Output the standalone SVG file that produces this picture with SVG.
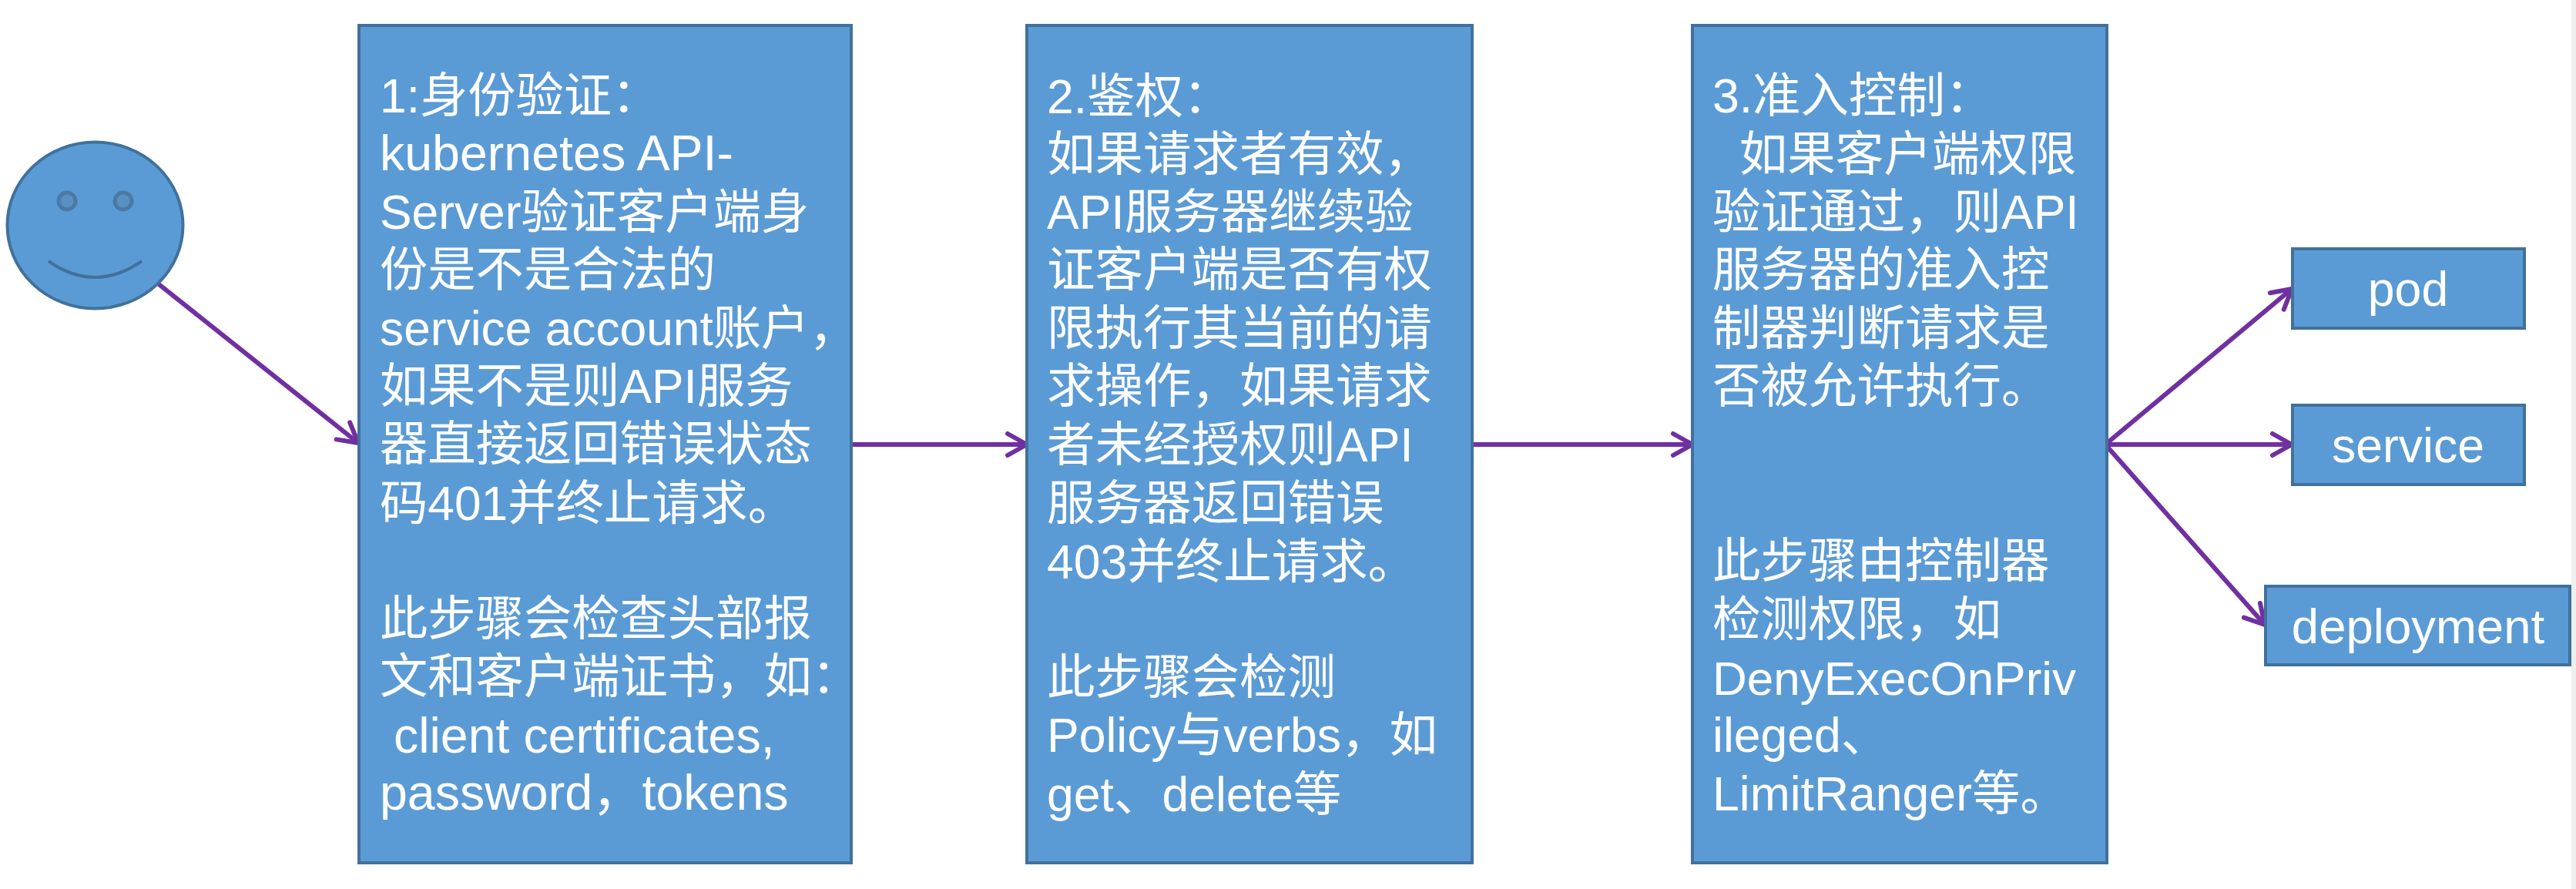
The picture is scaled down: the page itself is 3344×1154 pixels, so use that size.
<svg xmlns="http://www.w3.org/2000/svg" width="3344" height="1154" viewBox="0 0 3344 1154">
<defs>
<marker id="open" markerUnits="userSpaceOnUse" markerWidth="44" markerHeight="44" refX="29" refY="20" orient="auto" overflow="visible"><path d="M4 6 L29 20 L4 34" fill="none" stroke="#7030a0" stroke-width="6" stroke-linecap="round" stroke-linejoin="round"/></marker>
</defs>
<style>
.n{fill:#5b9bd5;stroke:#41719c;stroke-width:4}
.e{fill:#5b8fc2;stroke:#4a79a5;stroke-width:5}
.t{fill:#fff;font-family:"Liberation Sans","Noto Sans CJK SC",sans-serif;font-size:62.5px;white-space:pre}
#step1 .t{font-size:62.3px}
#step1 .l{font-size:64.5px}
.c{text-anchor:middle}
.a{fill:none;stroke:#7030a0;stroke-width:6;marker-end:url(#open)}
</style>
<rect width="3344" height="1154" fill="#fff"/>
<rect x="3338" width="6" height="1154" fill="#efefef"/>
<g id="connectors">
<path class="a" d="M205 368L465 575"/>
<path class="a" d="M1105 577H1333"/>
<path class="a" d="M1911 577H2197"/>
<path class="a" d="M2733 577L2975 375"/>
<path class="a" d="M2733 577H2975"/>
<path class="a" d="M2733 577L2940 811"/>
</g>
<g id="user">
<ellipse class="n" cx="123.5" cy="292.5" rx="114" ry="108"/>
<ellipse class="e" cx="87" cy="261" rx="11" ry="11"/>
<ellipse class="e" cx="160" cy="261" rx="11" ry="11"/>
<path d="M63 339Q123 381 184 339" fill="none" stroke="#41719c" stroke-width="4"/>
</g>
<g id="step1">
<rect class="n" x="466" y="33" width="639" height="1087"/>
<text class="t" x="493" y="146">1:身份验证&#xFF1A;</text>
<text class="t l" x="493" y="221">kubernetes API-</text>
<text class="t" x="493" y="297">Server验证客户端身</text>
<text class="t" x="493" y="372">份是不是合法的</text>
<text class="t" x="493" y="448">service account账户&#xFF0C;</text>
<text class="t" x="493" y="523">如果不是则API服务</text>
<text class="t" x="493" y="598">器直接返回错误状态</text>
<text class="t" x="493" y="675">码401并终止请求。</text>
<text class="t" x="493" y="825">此步骤会检查头部报</text>
<text class="t" x="493" y="900">文和客户端证书&#xFF0C;如&#xFF1A;</text>
<text class="t l" x="493" y="977"> client certificates,</text>
<text class="t l" x="493" y="1051">password&#xFF0C;tokens</text>
</g>
<g id="step2">
<rect class="n" x="1333" y="33" width="578" height="1087"/>
<text class="t" x="1359" y="147">2.鉴权&#xFF1A;</text>
<text class="t" x="1359" y="222">如果请求者有效&#xFF0C;</text>
<text class="t" x="1359" y="297">API服务器继续验</text>
<text class="t" x="1359" y="372">证客户端是否有权</text>
<text class="t" x="1359" y="448">限执行其当前的请</text>
<text class="t" x="1359" y="523">求操作&#xFF0C;如果请求</text>
<text class="t" x="1359" y="599">者未经授权则API</text>
<text class="t" x="1359" y="675">服务器返回错误</text>
<text class="t" x="1359" y="751">403并终止请求。</text>
<text class="t" x="1359" y="901">此步骤会检测</text>
<text class="t" x="1359" y="976">Policy与verbs&#xFF0C;如</text>
<text class="t" x="1359" y="1053">get、delete等</text>
</g>
<g id="step3">
<rect class="n" x="2197" y="33" width="538" height="1087"/>
<text class="t" x="2223" y="146">3.准入控制&#xFF1A;</text>
<text class="t" x="2223" y="222">  如果客户端权限</text>
<text class="t" x="2223" y="297">验证通过&#xFF0C;则API</text>
<text class="t" x="2223" y="372">服务器的准入控</text>
<text class="t" x="2223" y="448">制器判断请求是</text>
<text class="t" x="2223" y="523">否被允许执行。</text>
<text class="t" x="2223" y="750">此步骤由控制器</text>
<text class="t" x="2223" y="826">检测权限&#xFF0C;如</text>
<text class="t" x="2223" y="902" style="font-size:62px">DenyExecOnPriv</text>
<text class="t" x="2223" y="976">ileged、</text>
<text class="t" x="2223" y="1052">LimitRanger等。</text>
</g>
<g id="pod"><rect class="n" x="2976" y="323" width="301" height="103"/><text class="t c" x="3126" y="397">pod</text></g>
<g id="service"><rect class="n" x="2976" y="526" width="301" height="103"/><text class="t c" x="3126" y="600">service</text></g>
<g id="deployment"><rect class="n" x="2941" y="761" width="395" height="102"/><text class="t c" x="3139" y="835" style="font-size:63.5px">deployment</text></g>
</svg>
